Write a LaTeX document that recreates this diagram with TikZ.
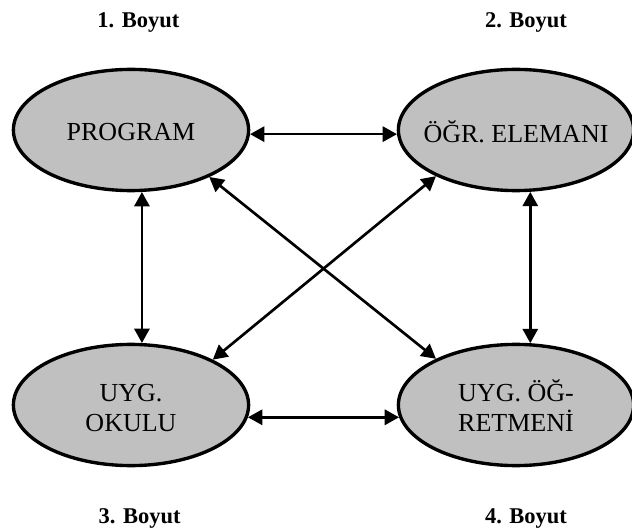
\documentclass[tikz,border=0pt]{standalone}
\usepackage{fontspec}
\setmainfont{Liberation Serif}
\usetikzlibrary{arrows.meta,shapes.geometric}
\definecolor{ovalgray}{RGB}{192,192,192}
\tikzstyle{oval}=[ellipse, draw, line width=2.4pt, fill=ovalgray, minimum width=5.88cm, minimum height=3.03cm, inner sep=0pt]
\tikzstyle{ovaltext}=[font=\fontsize{18.5}{21.3}\selectfont, align=center, inner sep=0pt]
\tikzstyle{boyut}=[anchor=base, font=\fontsize{16}{19}\selectfont\bfseries]
\tikzstyle{twoway}=[draw=black, line width=1.9pt, {Triangle[length=3.6mm,width=3.8mm]}-{Triangle[length=3.6mm,width=3.8mm]}]

\begin{document}
\begin{tikzpicture}
	\useasboundingbox (0,0) rectangle (15.8,13.25);
	\begin{scope}
		\node (a1) at (3.275, 10)[oval, label={[ovaltext, anchor=base, yshift=-0.05cm]center:PROGRAM}] {};
		\node (a2) at (12.9, 10)[oval, label={[ovaltext, anchor=base, yshift=-0.05cm]center:ÖĞR. ELEMANI}] {};
		\node (a3) at (3.275, 3.125)[oval, label={[ovaltext, yshift=-0.085cm]center:{UYG.\\OKULU}}] {};
		\node (a4) at (12.9, 3.125)[oval, label={[ovaltext, yshift=-0.02cm]center:{UYG. ÖĞ-\\RETMENİ}}] {};

		\node (b1) at (3.46, 12.55)[boyut] {1. Boyut};
		\node (b2) at (13.15, 12.55)[boyut] {2. Boyut};
		\node (b3) at (3.49, 0.175)[boyut] {3. Boyut};
		\node (b4) at (13.15, 0.175)[boyut] {4. Boyut};
	\end{scope}
	\begin{scope}
		\path (a1.-2) edge[twoway] (a2.182);
		\path (a3.-6) edge[twoway] (a4.186);
		\path (a1.-80) edge[twoway] (a3.80);
		\path (a2.-77) edge[twoway] (a4.77);
		\path (a1.-31) edge[twoway] (a4.150);
		\path (a2.-150) edge[twoway] (a3.29);
	\end{scope}
\end{tikzpicture}
\end{document}
